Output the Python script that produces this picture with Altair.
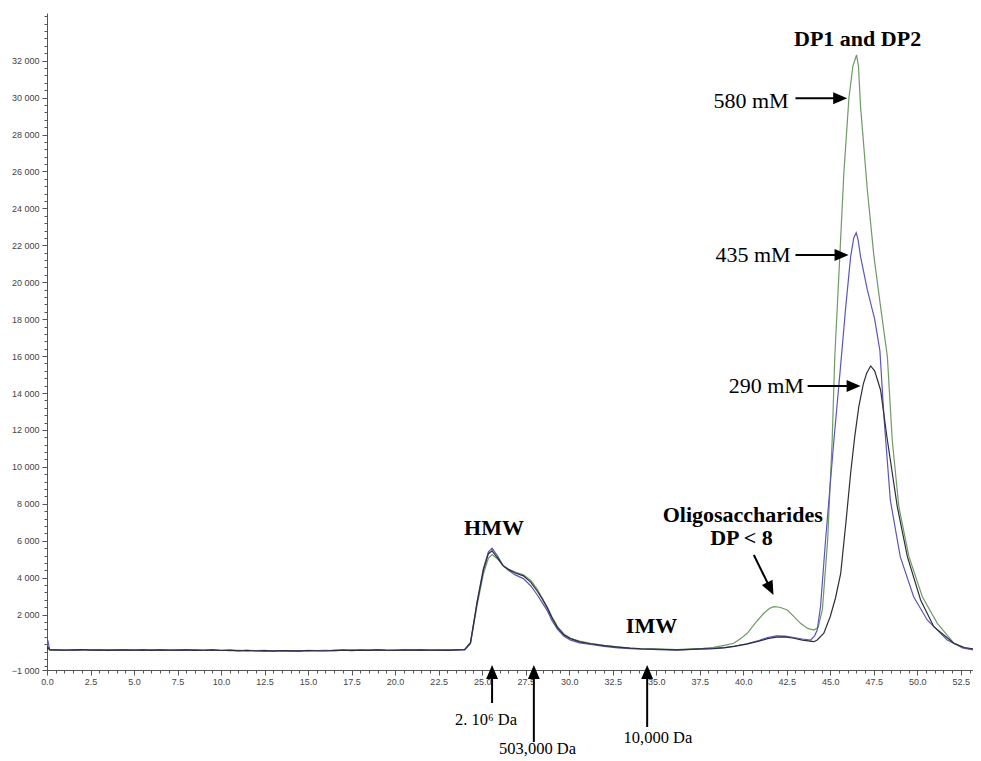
import altair as alt
import pandas as pd

# ---------------- data ----------------
COMMON_X = [0.0, 0.05, 0.15,
            0.5, 1.0, 1.5, 2.0, 2.5, 3.0, 3.5, 4.0, 4.5, 5.0,
            5.5, 6.0, 6.5, 7.0, 7.5, 8.0, 8.5, 9.0, 9.5, 10.0,
            10.5, 11.0, 11.5, 12.0, 12.5, 13.0, 13.5, 14.0, 14.5, 15.0,
            15.5, 16.0, 16.5, 17.0, 17.5, 18.0, 18.5, 19.0, 19.5, 20.0,
            20.5, 21.0, 21.5, 22.0, 22.5, 23.0, 23.5,
            24.0, 24.33, 24.71, 25.07, 25.36, 25.57, 25.9, 26.2, 26.51, 26.9,
            27.37, 27.8, 28.18, 28.45, 28.75, 29.0, 29.33, 29.7, 30.08, 30.6,
            31.23, 32.0, 32.78, 33.5, 34.1, 34.8, 35.5, 36.2, 37.0, 37.7]

BLACK_COMMON = [80, 250, 90,
                95, 70, 85, 100, 75, 90, 65, 80, 95, 70,
                85, 60, 90, 75, 80, 95, 60, 70, 85, 55,
                75, 40, 60, 30, 45, 20, 50, 35, 25, 55,
                40, 30, 60, 75, 50, 80, 65, 90, 70, 60,
                85, 75, 95, 70, 80, 60, 90,
                110, 480, 2650, 4400, 5300, 5450, 5050, 4650, 4450, 4250,
                4100, 3750, 3250, 2850, 2350, 1850, 1300, 900, 700, 520,
                420, 320, 240, 180, 150, 130, 110, 90, 120, 140]

BLUE_COMMON = [90, 600, 100,
               80, 90, 65, 85, 95, 70, 80, 100, 75, 85,
               65, 90, 80, 70, 95, 75, 85, 60, 80, 70,
               50, 65, 35, 55, 25, 40, 50, 20, 45, 35,
               55, 65, 40, 70, 85, 60, 75, 95, 65, 80,
               70, 90, 60, 85, 75, 95, 70,
               90, 470, 2700, 4500, 5400, 5600, 5150, 4650, 4400, 4150,
               3950, 3550, 3050, 2650, 2200, 1700, 1200, 820, 620, 470,
               380, 280, 200, 160, 130, 110, 90, 80, 110, 140]

GREEN_COMMON = [85, 200, 95,
                100, 75, 90, 110, 80, 95, 105, 70, 90, 85,
                100, 75, 95, 80, 70, 100, 85, 75, 90, 65,
                80, 55, 70, 45, 60, 40, 55, 50, 35, 60,
                50, 45, 70, 85, 60, 90, 80, 100, 75, 70,
                95, 85, 105, 80, 90, 75, 100,
                100, 420, 2500, 4200, 5050, 5250, 5000, 4650, 4450, 4300,
                4150, 3850, 3350, 2900, 2400, 1900, 1350, 950, 720, 560,
                440, 330, 250, 190, 160, 140, 130, 110, 150, 170]

GREEN_TAIL_X = [38.3, 38.9, 39.46, 39.85, 40.23, 40.7, 41.18, 41.5, 41.76, 42.1,
                42.53, 42.9, 43.29, 43.7, 44.06, 44.3, 44.55, 44.85, 45.11, 45.26,
                45.5, 45.78, 46.07, 46.3, 46.51, 46.62, 46.74, 47.13, 47.51, 47.89,
                48.28, 48.56, 48.94, 49.52, 50.29, 51.15, 52.11, 52.7, 53.2]
GREEN_TAIL_Y = [230, 330, 446, 700, 988, 1550, 2071, 2330, 2428, 2400,
                2250, 1900, 1529, 1250, 1166, 1300, 2300, 6040, 11457, 15969,
                20485, 25901, 29963, 31700, 32308, 31700, 29510, 24997, 21385, 18677,
                15969, 11457, 7844, 5136, 2970, 1529, 446, 200, 110]

BLUE_TAIL_X = [38.3, 38.9, 39.5, 40.2, 40.9, 41.4, 41.9, 42.4, 42.9, 43.4,
               43.87, 44.1, 44.25, 44.44, 44.73, 45.21, 45.64, 45.89, 46.17, 46.35,
               46.49, 46.6, 46.74, 47.13, 47.55, 47.85, 48.1, 48.45, 49.02, 49.79,
               50.57, 51.72, 52.6, 53.2]
BLUE_TAIL_Y = [170, 220, 300, 420, 600, 760, 850, 830, 760, 680,
               625, 850, 1167, 2430, 6040, 11457, 15969, 18677, 21385, 22400,
               22685, 22300, 21385, 19581, 18000, 16300, 12500, 8200, 5136, 2970,
               1708, 625, 200, 90]

BLACK_TAIL_X = [38.3, 38.9, 39.5, 40.2, 40.9, 41.4, 41.9, 42.4, 42.9, 43.4,
                44.06, 44.25, 44.63, 45.0, 45.3, 45.6, 45.9, 46.17, 46.4, 46.64,
                46.9, 47.09, 47.32, 47.55, 47.89, 48.28, 48.85, 49.43, 50.19, 50.95,
                52.1, 52.7, 53.2]
BLACK_TAIL_Y = [160, 200, 280, 400, 560, 700, 780, 790, 720, 620,
                533, 625, 988, 1900, 2900, 4237, 7000, 9653, 11600, 13260,
                14500, 15069, 15465, 15200, 14165, 11457, 7844, 5136, 2791, 1345,
                446, 220, 150]

SERIES = ["580 mM", "435 mM", "290 mM"]
COLORS = ["#6f9a66", "#5b57b8", "#2e2e38"]

# axis ticks
X_MAJOR = [i * 2.5 for i in range(22)]
X_MINOR = [i * 0.5 for i in range(107)]
Y_MAJOR = [-1000] + [i * 2000 for i in range(1, 17)]
Y_MINOR = [-800 + i * 400 for i in range(89)]

# annotations (text anchored at its baseline)
BOLD_LABELS = ["DP1 and DP2", "HMW", "IMW", "Oligosaccharides", "DP < 8"]
BOLD_X = [46.57, 25.68, 34.73, 39.97, 39.9]
BOLD_Y = [32796, 6312, 1004, 7016, 5770]

CONC_LABELS = ["580 mM", "435 mM", "290 mM"]
CONC_X = [42.61, 42.72, 43.48]
CONC_Y = [29438, 21097, 14002]

DA_LABELS = ["2. 10\u2076 Da", "503,000 Da", "10,000 Da"]
DA_X = [25.22, 28.18, 35.1]
DA_Y = [-3979, -5550, -4954]

SHAFT_X1 = [43.0, 43.0, 43.70, 40.61, 25.57, 27.97, 34.48]
SHAFT_X2 = [45.57, 45.65, 46.34, 41.56, 25.57, 27.97, 34.48]
SHAFT_Y1 = [29963, 21476, 14381, 5228, -2787, -4900, -4087]
SHAFT_Y2 = [29963, 21476, 14381, 3403, -1108, -1108, -1108]

HEAD_X = [45.57, 45.65, 46.34, 41.56, 25.57, 27.97, 34.48]
HEAD_Y = [29963, 21476, 14381, 3403, -1108, -1108, -1108]
HEAD_ANGLE = [90, 90, 90, 153.4, 0, 0, 0]
ARROW_PATH = "M0,-1L0.85,1L-0.85,1Z"

# ---------------- build ----------------
def frame(name, xs, ys):
    assert len(xs) == len(ys), name
    return pd.DataFrame({"t": xs, "v": ys, "s": name})

df_green = frame("580 mM", COMMON_X + GREEN_TAIL_X, GREEN_COMMON + GREEN_TAIL_Y)
df_blue = frame("435 mM", COMMON_X + BLUE_TAIL_X, BLUE_COMMON + BLUE_TAIL_Y)
df_black = frame("290 mM", COMMON_X + BLACK_TAIL_X, BLACK_COMMON + BLACK_TAIL_Y)

xs = alt.Scale(domain=[0, 53.2], nice=False, zero=False)
ys = alt.Scale(domain=[-1000, 34580], nice=False, zero=False)

AX = dict(labelFont="Liberation Sans", labelFontSize=9, labelColor="#444",
          tickColor="#555", domainColor="#555", grid=False, title=None,
          labelFlush=False, labelOverlap=False)

x_major = alt.Axis(orient="bottom", values=X_MAJOR, format=".1f", tickSize=5,
                   labelPadding=2, **AX)
y_major = alt.Axis(orient="left", values=Y_MAJOR, tickSize=5, labelPadding=3,
                   labelExpr="replace(format(datum.value, ','), ',', ' ')", **AX)
x_minor = alt.Axis(orient="bottom", values=X_MINOR, labels=False, domain=False,
                   tickSize=3, tickColor="#555", grid=False, title=None)
y_minor = alt.Axis(orient="left", values=Y_MINOR, labels=False, domain=False,
                   tickSize=3, tickColor="#555", grid=False, title=None)


def line_layer(df, color, xaxis=None, yaxis=None):
    return alt.Chart(df).mark_line(color=color, strokeWidth=1.2, clip=True).encode(
        x=alt.X("t:Q", scale=xs, axis=xaxis),
        y=alt.Y("v:Q", scale=ys, axis=yaxis),
    )


minor = alt.Chart(df_black).mark_line(opacity=0).encode(
    x=alt.X("t:Q", scale=xs, axis=x_minor),
    y=alt.Y("v:Q", scale=ys, axis=y_minor),
)

l_green = line_layer(df_green, COLORS[0], x_major, y_major)
l_blue = line_layer(df_blue, COLORS[1])
l_black = line_layer(df_black, COLORS[2])

bold_df = pd.DataFrame({"x": BOLD_X, "y": BOLD_Y, "label": BOLD_LABELS})
bold = alt.Chart(bold_df).mark_text(font="Liberation Serif", fontSize=22, fontWeight="bold",
                                    color="black", align="center", baseline="alphabetic").encode(
    x=alt.X("x:Q", scale=xs, axis=None), y=alt.Y("y:Q", scale=ys, axis=None), text="label:N")

conc_df = pd.DataFrame({"x": CONC_X, "y": CONC_Y, "label": CONC_LABELS})
conc = alt.Chart(conc_df).mark_text(font="Liberation Serif", fontSize=22,
                                    color="black", align="right", baseline="alphabetic").encode(
    x=alt.X("x:Q", scale=xs, axis=None), y=alt.Y("y:Q", scale=ys, axis=None), text="label:N")

da_df = pd.DataFrame({"x": DA_X, "y": DA_Y, "label": DA_LABELS})
da = alt.Chart(da_df).mark_text(font="Liberation Serif", fontSize=16.5,
                                color="black", align="center", baseline="alphabetic").encode(
    x=alt.X("x:Q", scale=xs, axis=None), y=alt.Y("y:Q", scale=ys, axis=None), text="label:N")

shaft_df = pd.DataFrame({"x1": SHAFT_X1, "x2": SHAFT_X2, "y1": SHAFT_Y1, "y2": SHAFT_Y2})
shafts = alt.Chart(shaft_df).mark_rule(color="black", strokeWidth=2).encode(
    x=alt.X("x1:Q", scale=xs, axis=None), x2="x2:Q",
    y=alt.Y("y1:Q", scale=ys, axis=None), y2="y2:Q")

head_df = pd.DataFrame({"x": HEAD_X, "y": HEAD_Y, "angle": HEAD_ANGLE})
heads = alt.Chart(head_df).mark_point(filled=True, color="black", opacity=1, size=196,
                                      shape=ARROW_PATH).encode(
    x=alt.X("x:Q", scale=xs, axis=None), y=alt.Y("y:Q", scale=ys, axis=None),
    angle=alt.Angle("angle:Q", scale=None))

chart = alt.layer(minor, l_green, l_blue, l_black, bold, conc, da, shafts, heads).resolve_axis(
    x="independent", y="independent"
).properties(
    width=926, height=657,
    padding={"left": 39, "top": 5, "right": 0, "bottom": 91},
    autosize=alt.AutoSizeParams(type="none"),
    background="white",
).configure_view(stroke="transparent")

chart.save("out.html", embed_options={"renderer": "svg", "actions": False})
